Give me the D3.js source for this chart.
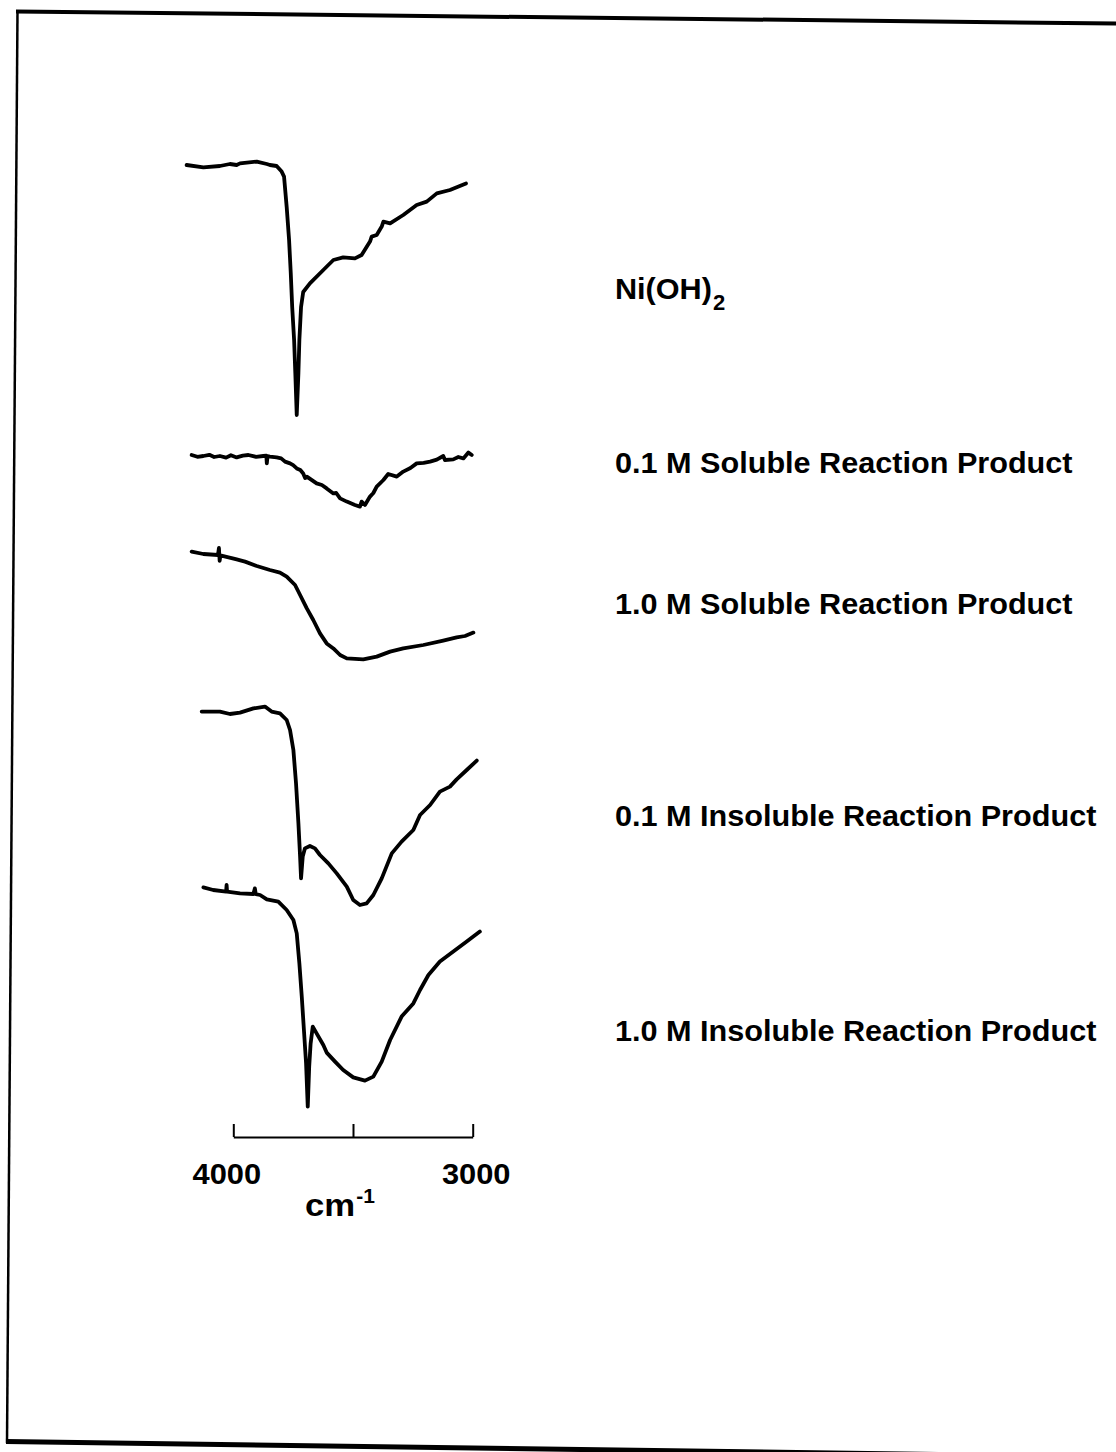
<!DOCTYPE html>
<html>
<head>
<meta charset="utf-8">
<script src="https://cdn.jsdelivr.net/npm/d3@7/dist/d3.min.js"></script>
<style>
  html, body { margin: 0; padding: 0; background: #fff; }
  svg { display: block; }
  text { font-family: "Liberation Sans", Arial, Helvetica, sans-serif; font-weight: bold; fill: #000; }
</style>
</head>
<body>
<svg id="chart" width="1116" height="1452"></svg>
<script>
// IR spectra in the O–H stretching region, stacked with arbitrary offsets.
// Each point: [wavenumber (cm^-1), transmittance (stacked, arbitrary units)]
const niOH2 = [
  [4195,497.5],[4125,496.3],[4056,497],[4014,498],[3986,497.5],[3972,498.3],[3902,499.2],
  [3860,498],[3847,497.5],[3819,497],[3798,494.2],[3788,491.7],[3777,476.5],[3767,460],
  [3760,443.5],[3754,426.5],[3746,410],[3741,393.5],[3735,372.5],[3728,393.5],[3724,410],
  [3717,426.5],[3708,434],[3680,438.3],[3624,445],[3582,450],[3541,451.3],[3492,450.8],
  [3464,452.5],[3429,459.2],[3422,461.7],[3401,462.5],[3380,466.7],[3373,469.2],[3345,468.3],
  [3290,472.5],[3234,477.5],[3192,479.2],[3150,483.3],[3095,485],[3028,488.3]
];

const soluble01M = [
  [4174,352.5],[4150,351.6],[4125,352],[4100,352.6],[4080,351.5],[4056,352],[4030,351.2],
  [4010,352.4],[3986,351.3],[3960,352.2],[3937,352.5],[3905,351.6],[3875,352],[3862,352.2],
  [3860,348.3],[3857,351.9],[3847,351.7],[3819,351.3],[3800,350.8],[3784,349.2],[3763,348.3],
  [3750,347.4],[3735,345.8],[3720,345],[3708,343.3],[3700,341],[3693,341.7],[3652,338.3],
  [3630,337.5],[3610,335.8],[3582,333.3],[3570,333.5],[3554,330.8],[3526,329.2],[3492,327.5],
  [3471,326.7],[3464,329.2],[3450,327.5],[3429,331.7],[3415,333.5],[3401,336.7],[3373,340],
  [3353,343],[3317,341.7],[3290,344.2],[3260,346],[3234,348.3],[3205,348.6],[3178,349.2],
  [3150,350.2],[3123,352],[3116,350],[3081,350.3],[3060,351.5],[3039,350.8],[3018,353.7],[3004,352.5]
];

const soluble10M = [
  [4174,304.2],[4125,303],[4064,302.5],[4060,306],[4057,299.6],[4054,302.3],[3986,300.3],
  [3951,299.2],[3902,297],[3847,295],[3805,293.7],[3777,291.7],[3742,287.5],[3721,282.5],
  [3693,275.8],[3666,270],[3638,263.3],[3610,258.3],[3582,255.8],[3554,252.5],[3526,250.8],
  [3457,250.3],[3401,251.7],[3345,254.2],[3290,255.8],[3206,257.5],[3123,259.7],[3067,261.3],
  [3032,262],[2997,263.7]
];

const insoluble01M = [
  [4132,224.2],[4056,224.2],[4014,223],[3972,223.7],[3916,225.8],[3868,226.7],[3840,224.2],
  [3805,223.3],[3777,220],[3763,215],[3749,205],[3738,188.3],[3728,168.3],[3721,151.7],
  [3717,140.8],[3710,151.7],[3701,155.8],[3680,157],[3659,155.8],[3638,152.5],[3603,148.3],
  [3568,143.3],[3526,136.7],[3499,130],[3471,127.5],[3443,128.3],[3415,132.5],[3380,140.8],
  [3338,153.3],[3297,159.2],[3248,165],[3220,172.5],[3178,177.5],[3137,184.2],[3095,186.7],
  [3067,190.3],[3025,195],[2983,199.7]
];

const insoluble10M = [
  [4125,136.3],[4084,135],[4030,134.2],[4028,137.5],[4026,134.2],[3972,133.3],[3916,133],
  [3910,135.8],[3906,132.9],[3888,132.5],[3860,130.3],[3812,129.2],[3777,125],[3749,120],
  [3735,113.3],[3724,98.3],[3714,81.7],[3705,65],[3696,48.3],[3689,26.7],[3683,46.7],
  [3677,58.3],[3668,66.7],[3652,63.3],[3624,57.5],[3610,53.7],[3575,49.2],[3541,45],
  [3499,41.3],[3450,39.7],[3415,41.7],[3380,49.2],[3345,60],[3297,71.7],[3248,78.3],
  [3220,85],[3185,92.5],[3137,99.2],[3081,104.2],[3025,109.2],[2970,114.2]
];

const spectra = [niOH2, soluble01M, soluble10M, insoluble01M, insoluble10M];

// Sample names printed beside each trace (ordinate of the label baseline, same units)
const sampleLabels = [
  { text: "Ni(OH)", sub: "2", at: 430.5 },
  { text: "0.1 M Soluble Reaction Product", at: 343.5 },
  { text: "1.0 M Soluble Reaction Product", at: 273 },
  { text: "0.1 M Insoluble Reaction Product", at: 167 },
  { text: "1.0 M Insoluble Reaction Product", at: 59.5 }
];

const axisTicks = [4000, 3500, 3000];
const axisTickLabels = { 4000: "4000", 3000: "3000" };

const svg = d3.select("#chart");
const W = 1116;

// Scanned page frame (slightly rotated)
const frame = svg.append("g").attr("fill", "none").attr("stroke", "#000");
frame.append("line").attr("x1", 16).attr("y1", 11.5).attr("x2", W + 2).attr("y2", 23.5).attr("stroke-width", 4);
frame.append("line").attr("x1", 17.5).attr("y1", 11).attr("x2", 7).attr("y2", 1443).attr("stroke-width", 2.5);
frame.append("line").attr("x1", 6).attr("y1", 1441.5).attr("x2", W + 2).attr("y2", 1457).attr("stroke-width", 5);

const x = d3.scaleLinear().domain([4000, 3000]).range([233.3, 472.7]);
const y = d3.scaleLinear().domain([0, 500]).range([1160, 160]);

const line = d3.line().x(d => x(d[0])).y(d => y(d[1]));

svg.append("g")
  .selectAll("path")
  .data(spectra)
  .join("path")
  .attr("d", line)
  .attr("fill", "none")
  .attr("stroke", "#000")
  .attr("stroke-width", 3.8)
  .attr("stroke-linejoin", "round")
  .attr("stroke-linecap", "round");

// Wavenumber scale bar
const axisG = svg.append("g")
  .attr("transform", "translate(0,1137)")
  .call(d3.axisBottom(x)
    .tickValues(axisTicks)
    .tickSizeInner(-13)
    .tickSizeOuter(0)
    .tickFormat(d => axisTickLabels[d] || ""));
axisG.select(".domain").attr("stroke", "#000").attr("stroke-width", 2);
axisG.selectAll(".tick line").attr("stroke", "#000").attr("stroke-width", 2);
axisG.selectAll(".tick text")
  .attr("y", 47).attr("dy", 0)
  .attr("dx", d => d === 4000 ? -7 : 3)
  .attr("fill", "#000")
  .style("font-family", "'Liberation Sans', Arial, sans-serif")
  .style("font-weight", "bold")
  .style("font-size", "29px");

const STRETCH = 1.063;
function widen(sel, k = STRETCH) {
  sel.each(function () {
    const len = this.getComputedTextLength();
    d3.select(this).attr("textLength", len * k).attr("lengthAdjust", "spacingAndGlyphs");
  });
}
axisG.selectAll(".tick text").call(widen);

const unit = svg.append("text").attr("x", 305).attr("y", 1216);
const cm = unit.append("tspan").style("font-size", "31px").text("cm");
widen(cm, 1.12);
unit.append("tspan").style("font-size", "21px").attr("dy", -13).attr("dx", 1).text("-1");

// Sample labels
const labelG = svg.append("g");
sampleLabels.forEach(l => {
  const t = labelG.append("text").attr("x", 615).attr("y", y(l.at)).style("font-size", "28.8px");
  if (l.sub) {
    const main = t.append("tspan").text(l.text);
    widen(main);
    t.append("tspan").style("font-size", "22px").attr("dy", 11).attr("dx", 1).text(l.sub);
  } else {
    t.text(l.text);
    widen(t);
  }
});
</script>
</body>
</html>
